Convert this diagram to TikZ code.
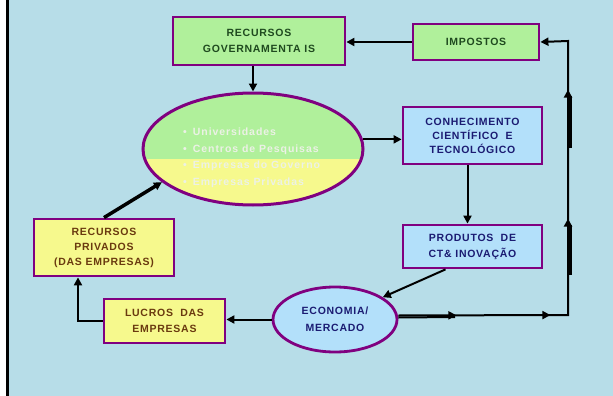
\documentclass[tikz,border=0pt]{standalone}
\usepackage{fontspec}
\usepackage{tikz}
\usetikzlibrary{shapes.geometric,arrows.meta,positioning,calc,decorations.markings}
\newfontfamily\boxfont[LetterSpace=7]{Liberation Sans}
\newfontfamily\listfont[LetterSpace=9]{Liberation Sans}
\definecolor{CicloSky}{HTML}{B7DDE8}
\definecolor{CicloPurple}{HTML}{800080}
\definecolor{CicloGreen}{HTML}{B0F09B}
\definecolor{CicloYellow}{HTML}{F6F98D}
\definecolor{CicloBlue}{HTML}{B3E0FA}
\definecolor{CicloForest}{HTML}{1F4A1F}
\definecolor{CicloNavy}{HTML}{1B1B72}
\definecolor{CicloBrown}{HTML}{6A3A0F}
\definecolor{CicloPale}{HTML}{ECF1E6}

\begin{document}
\begin{tikzpicture}[x=1pt,y=-1pt,
  every node/.style={align=center,inner sep=0pt},
  cbox/.style={rectangle,draw=CicloPurple,line width=2.8pt,
    font=\boxfont\bfseries\fontsize{10.5}{16}\selectfont},
  govbox/.style={cbox,fill=CicloGreen,text=CicloForest},
  scibox/.style={cbox,fill=CicloBlue,text=CicloNavy},
  firmbox/.style={cbox,fill=CicloYellow,text=CicloBrown},
  flow/.style={draw=black,line width=2pt,-{Triangle[length=8pt,width=8pt]}}]
  \useasboundingbox (0,0) rectangle (613,396);
  \fill[CicloSky] (8,0) rectangle (613,396);
  \draw[line width=3pt] (7,0) -- (7,396);
  % boxes
  \node[govbox, minimum width=172pt, minimum height=48pt] (recgov) at (259,41)
    {RECURSOS\\GOVERNAMENTA IS};
  \node[govbox, minimum width=126pt, minimum height=36pt] (impostos) at (476,42)
    {IMPOSTOS};
  \node[scibox, minimum width=139pt, minimum height=57pt, font=\boxfont\bfseries\fontsize{10.5}{14}\selectfont]
    (conhec) at (472.5,135.5) {CONHECIMENTO\\CIENTÍFICO \ E\\TECNOLÓGICO};
  \node[scibox, minimum width=139pt, minimum height=43pt] (produtos) at (472.5,246.5)
    {PRODUTOS \ DE\\CT\& INOVAÇÃO};
  \node[firmbox, minimum width=140pt, minimum height=57pt, font=\boxfont\bfseries\fontsize{10.5}{15}\selectfont]
    (recpriv) at (104,247.5) {RECURSOS\\PRIVADOS\\(DAS EMPRESAS)};
  \node[firmbox, minimum width=121pt, minimum height=44pt] (lucros) at (164.5,321)
    {LUCROS \ DAS\\EMPRESAS};
  \node[ellipse, draw=CicloPurple, line width=2.8pt, fill=CicloBlue, text=CicloNavy,
    minimum width=124pt, minimum height=65pt,
    font=\boxfont\bfseries\fontsize{10.5}{17}\selectfont] (econ) at (335,319.5)
    {ECONOMIA/\\MERCADO};
  % institutions
  \node[ellipse, draw=CicloPurple, line width=3pt, minimum width=220pt, minimum height=112pt,
    path picture={
      \fill[CicloGreen] (path picture bounding box.north west) rectangle ([yshift=-10pt]path picture bounding box.east);
      \fill[CicloYellow] ([yshift=-10pt]path picture bounding box.west) rectangle (path picture bounding box.south east);
    }] (inst) at (253,149) {};
  \node[anchor=west, align=left, text=CicloPale,
    font=\listfont\bfseries\fontsize{10.5}{16.5}\selectfont] (instlist) at (183,158)
    {•\hspace{6pt}Universidades\\ •\hspace{6pt}Centros de Pesquisas\\
     •\hspace{6pt}Empresas do Governo\\ •\hspace{6pt}Empresas Privadas};
  % connectors
  \coordinate (jr) at (568,315);
  \coordinate (jt) at (568,41);
  \draw[flow] (inst.north |- recgov.south) -- (inst.north);
  \draw[flow] (impostos.west) -- (impostos.west -| recgov.east);
  \draw[flow] (inst.5) -- (inst.5 -| conhec.west);
  \draw[flow] ([xshift=-5pt]conhec.south) -- ([xshift=-5pt]produtos.north);
  \draw[flow] ([xshift=-27pt]produtos.south) -- (econ.25);
  \draw[flow] (econ.west) -- (econ.west -| lucros.east);
  \draw[flow] (lucros.west) -| ([xshift=-26pt]recpriv.south);
  \draw[flow, line width=3.5pt] (recpriv.north) -- (inst.200);
  \draw[flow, postaction={decorate}, decoration={markings,
      mark=at position 58pt with {\arrow{Triangle[length=8pt,width=8pt]}},
      mark=at position 152pt with {\arrow{Triangle[length=8pt,width=8pt]}},
      mark=at position 266pt with {\arrow{Triangle[length=8pt,width=8pt]}},
      mark=at position 395pt with {\arrow{Triangle[length=8pt,width=8pt]}}}]
    ([yshift=4pt]econ.east) -- (jr) -- (jt) -- (impostos.east);
  \draw[line width=2pt] ([yshift=2pt]econ.east) -- (455,317);
  \draw[line width=2.2pt] (570.5,148) -- (570.5,96);
  \draw[line width=2.2pt] (570.5,275) -- (570.5,225);
\end{tikzpicture}
\end{document}
